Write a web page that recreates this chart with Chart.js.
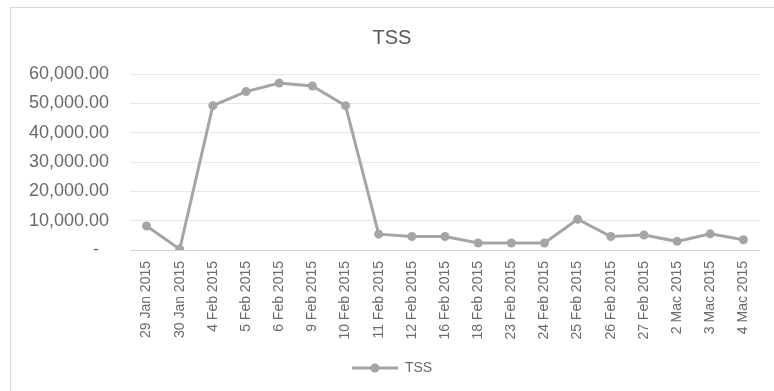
<!DOCTYPE html>
<html>
<head>
<meta charset="utf-8">
<title>TSS</title>
<script src="https://cdn.jsdelivr.net/npm/chart.js@4.4.1/dist/chart.umd.min.js"></script>
<style>
  html, body { margin: 0; padding: 0; background: #ffffff; overflow: hidden; }
  #frame {
    position: absolute; left: 10px; top: 7px; width: 800px; height: 420px;
    border-left: 1px solid #d9d9d9; border-top: 1px solid #d9d9d9;
  }
  #wrap { position: absolute; left: 0; top: 0; width: 774px; height: 391px; }
</style>
</head>
<body>
<div id="frame"></div>
<div id="wrap"><canvas id="chart"></canvas></div>
<script>
// Sampling dates
const categories = [
  '29 Jan 2015', '30 Jan 2015', '4 Feb 2015', '5 Feb 2015', '6 Feb 2015',
  '9 Feb 2015', '10 Feb 2015', '11 Feb 2015', '12 Feb 2015', '16 Feb 2015',
  '18 Feb 2015', '23 Feb 2015', '24 Feb 2015', '25 Feb 2015', '26 Feb 2015',
  '27 Feb 2015', '2 Mac 2015', '3 Mac 2015', '4 Mac 2015'
];

// Total suspended solids
const tssValues = [
  8200, 300, 49200, 54000, 56900,
  55900, 49200, 5400, 4600, 4600,
  2400, 2400, 2400, 10500, 4600,
  5100, 2950, 5500, 3500
];

// Value axis ticks and their labels
const yTickValues = [0, 10000, 20000, 30000, 40000, 50000, 60000];
const yTickLabels = ['-  ', '10,000.00', '20,000.00', '30,000.00', '40,000.00', '50,000.00', '60,000.00'];

const lineColor = '#a5a5a5';
const textColor = '#6a6a6a';

// Legend symbol: a short line with a marker in the middle
const legendSymbol = document.createElement('canvas');
legendSymbol.width = 46;
legendSymbol.height = 10;
(function () {
  const c = legendSymbol.getContext('2d');
  c.strokeStyle = lineColor;
  c.lineWidth = 3;
  c.beginPath();
  c.moveTo(0, 5);
  c.lineTo(46, 5);
  c.stroke();
  c.fillStyle = lineColor;
  c.beginPath();
  c.arc(23, 5, 4.5, 0, Math.PI * 2);
  c.fill();
})();

new Chart(document.getElementById('chart'), {
  type: 'line',
  data: {
    labels: categories,
    datasets: [{
      label: 'TSS',
      data: tssValues,
      borderColor: lineColor,
      backgroundColor: lineColor,
      borderWidth: 3,
      pointRadius: 4.5,
      pointHoverRadius: 4.5,
      pointBorderWidth: 0,
      pointBackgroundColor: lineColor,
      tension: 0,
      fill: false
    }]
  },
  options: {
    responsive: true,
    maintainAspectRatio: false,
    animation: false,
    layout: { padding: { left: 10, right: 0, top: 0, bottom: 6 } },
    plugins: {
      title: {
        display: true,
        text: 'TSS',
        color: '#595959',
        font: { family: 'Liberation Sans, Arial, sans-serif', size: 20, weight: 'normal' },
        padding: { top: 26, bottom: 24 }
      },
      legend: {
        display: true,
        position: 'bottom',
        labels: {
          usePointStyle: true,
          pointStyle: legendSymbol,
          pointStyleWidth: 46,
          color: textColor,
          font: { family: 'Liberation Sans, Arial, sans-serif', size: 14 },
          padding: 10
        }
      },
      tooltip: { enabled: false }
    },
    scales: {
      x: {
        offset: true,
        grid: { display: false, drawTicks: false, offset: true },
        border: { display: false },
        ticks: {
          autoSkip: false,
          minRotation: 90,
          maxRotation: 90,
          padding: 11,
          color: textColor,
          font: { family: 'Liberation Sans, Arial, sans-serif', size: 14 }
        },
        afterFit(scale) { scale.height = 101; }
      },
      y: {
        min: 0,
        max: 60000,
        grid: {
          drawTicks: false,
          color: (ctx) => (ctx.tick && ctx.tick.value === 0 ? '#d4d4d4' : '#e6e6e6'),
          lineWidth: 1
        },
        border: { display: false },
        afterBuildTicks(scale) { scale.ticks = yTickValues.map(v => ({ value: v })); },
        ticks: {
          padding: 21,
          color: textColor,
          font: { family: 'Liberation Sans, Arial, sans-serif', size: 18 },
          callback: (value, index) => yTickLabels[index]
        },
        afterFit(scale) { scale.width = 120; }
      },
      yRight: {
        position: 'right',
        display: true,
        grid: { display: false, drawTicks: false },
        border: { display: false },
        ticks: { display: false },
        afterFit(scale) { scale.width = 14; }
      }
    }
  }
});
</script>
</body>
</html>
